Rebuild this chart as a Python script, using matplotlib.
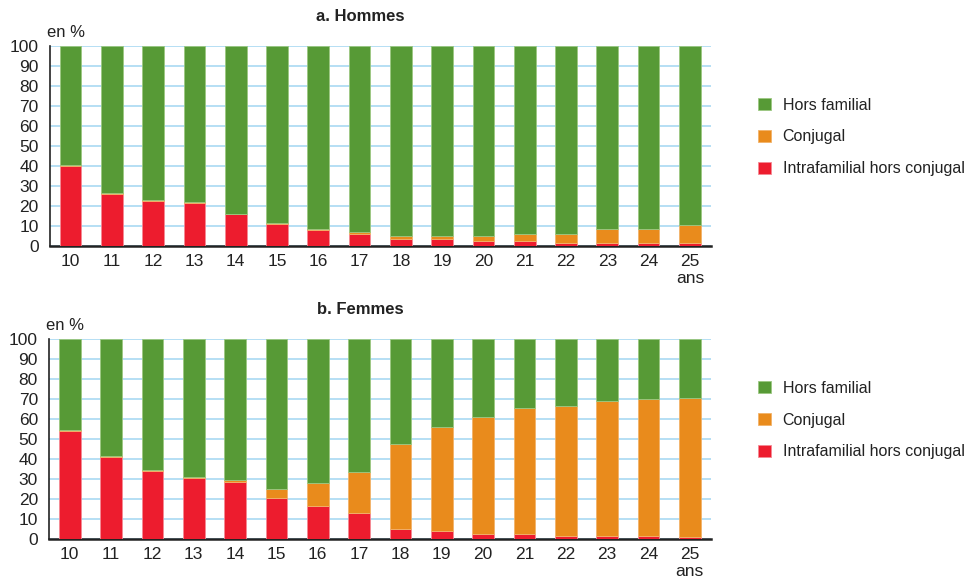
import matplotlib
matplotlib.use("Agg")
import matplotlib.pyplot as plt
import numpy as np

plt.rcParams['font.family'] = ['Liberation Sans', 'DejaVu Sans']

ages = ['10', '11', '12', '13', '14', '15', '16', '17', '18', '19',
        '20', '21', '22', '23', '24', '25\nans']

# Hommes (en %)
h_intra = [40, 26, 22.5, 21.5, 15.8, 10.8, 8, 5.8, 3.3, 3.3, 2.7, 2.3, 1.7, 1.7, 1.7, 1.7]
h_conj = [0.6, 0.4, 0.3, 0.3, 0.3, 0.6, 0.7, 1, 1.9, 1.8, 2.5, 3.8, 4.5, 6.8, 6.8, 9]

# Femmes (en %)
f_intra = [54, 40.8, 34.2, 30.7, 28.3, 20.5, 16.7, 13.2, 5, 4, 2.7, 2.3, 1.7, 1.5, 1.3, 1.2]
f_conj = [0.6, 0.6, 0.5, 0.3, 1.2, 4.7, 11.5, 20.1, 42.5, 52, 58.3, 63.2, 64.8, 67.5, 68.7, 69.5]

labels = ['Intrafamilial hors conjugal', 'Conjugal', 'Hors familial']
colors = ['#ed1c2e', '#e98b1c', '#579a36']
edges = ['#f48a94', '#f2b36a', '#9cc882']


def draw_panel(ax, intra, conj, title, leg_y):
    x = np.arange(len(ages))
    intra = np.array(intra)
    conj = np.array(conj)
    hors = 100 - intra - conj
    bars = []
    bottom = np.zeros(len(ages))
    for vals, c, e, lab in zip([intra, conj, hors], colors, edges, labels):
        b = ax.bar(x, vals, width=0.525, bottom=bottom, color=c,
                   edgecolor=e, linewidth=0.6, label=lab, zorder=3)
        bottom = bottom + vals
        bars.append(b)

    ax.set_xlim(-0.5, 15.5)
    ax.set_ylim(0, 100)
    ax.set_yticks(range(0, 101, 10))
    ax.set_xticks(x)
    ax.set_xticklabels(ages, linespacing=1.1)
    ax.yaxis.grid(True, color='#a9d9f2', linewidth=1.2, zorder=0)
    ax.set_axisbelow(True)
    ax.tick_params(axis='both', length=0, labelsize=12.5, colors='#222222')
    ax.tick_params(axis='y', pad=8)
    ax.tick_params(axis='x', pad=6)
    ax.spines['top'].set_visible(False)
    ax.spines['right'].set_visible(False)
    ax.spines['left'].set_color('#222222')
    ax.spines['bottom'].set_color('#222222')
    ax.spines['bottom'].set_linewidth(1.8)
    ax.spines['left'].set_linewidth(1.2)
    ax.text(-0.005, 1.03, 'en %', transform=ax.transAxes, fontsize=12,
            ha='left', va='bottom', color='#222222')
    ax.set_title(title, fontsize=12, fontweight='bold', color='#222222',
                 pad=18, x=0.47)

    handles = bars[::-1]
    ax.legend(handles, labels[::-1], loc='center left',
              bbox_to_anchor=(1.05, leg_y), frameon=False, fontsize=11.5,
              handlelength=0.8, handleheight=0.8, handletextpad=0.75,
              labelspacing=1.05, labelcolor='#222222')


fig = plt.figure(figsize=(9.72, 5.8), dpi=100)
ax1 = fig.add_axes([0.0514, 0.5759, 0.6796, 0.3448])
ax2 = fig.add_axes([0.0504, 0.0707, 0.6806, 0.3448])

draw_panel(ax1, h_intra, h_conj, 'a. Hommes', 0.545)
draw_panel(ax2, f_intra, f_conj, 'b. Femmes', 0.595)

fig.savefig('out.png', dpi=100)
